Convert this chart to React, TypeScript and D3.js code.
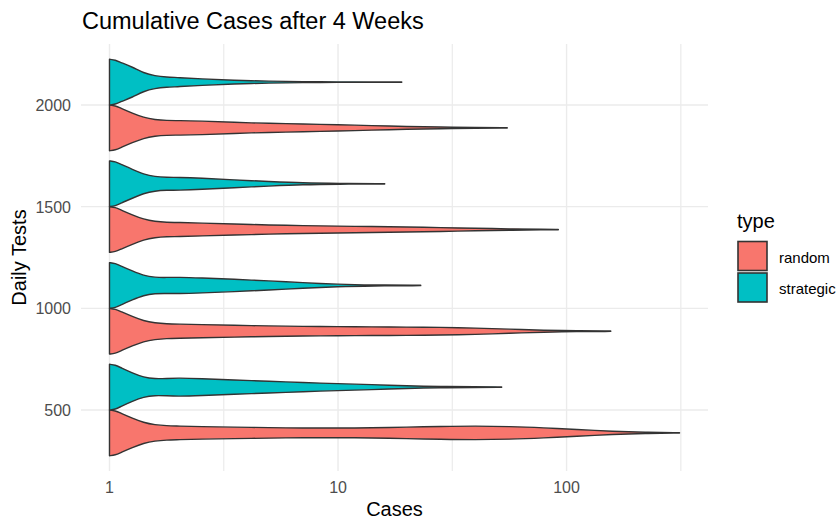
import React from "react";
import * as d3 from "d3";

// categories
const dailyTests = ["500", "1000", "1500", "2000"];
const types = ["random", "strategic"];
const typeColors = ["#F8766D", "#00BFC4"];
const xTicks = [1, 10, 100];

// violin outlines: cases (x) and relative half-width (1 = widest)
const random500Cases = [1, 1.06, 1.12, 1.26, 1.41, 1.58, 1.78, 2, 2.5, 3.5, 5, 7, 10, 14, 20, 28, 40, 56, 80, 110, 160, 220, 312];
const random500Width = [1, 0.97, 0.86, 0.64, 0.45, 0.35, 0.31, 0.3, 0.27, 0.25, 0.23, 0.21, 0.21, 0.22, 0.25, 0.28, 0.3, 0.28, 0.22, 0.15, 0.065, 0.025, 0.008];

const strategic500Cases = [1, 1.06, 1.12, 1.26, 1.41, 1.58, 1.78, 2, 2.5, 3.5, 5, 7, 10, 14, 20, 28, 40, 52];
const strategic500Width = [1, 0.97, 0.85, 0.62, 0.43, 0.36, 0.38, 0.4, 0.37, 0.31, 0.26, 0.2, 0.15, 0.11, 0.055, 0.025, 0.012, 0.008];

const random1000Cases = [1, 1.06, 1.12, 1.26, 1.41, 1.58, 1.78, 2, 2.5, 3.5, 5, 7, 10, 14, 20, 28, 40, 56, 80, 110, 156];
const random1000Width = [1, 0.97, 0.86, 0.64, 0.45, 0.36, 0.32, 0.31, 0.29, 0.26, 0.23, 0.21, 0.2, 0.19, 0.18, 0.17, 0.14, 0.09, 0.04, 0.018, 0.008];

const strategic1000Cases = [1, 1.06, 1.12, 1.26, 1.41, 1.58, 1.78, 2, 2.5, 3.5, 5, 7, 10, 14, 23];
const strategic1000Width = [1, 0.97, 0.85, 0.63, 0.43, 0.35, 0.35, 0.36, 0.33, 0.27, 0.2, 0.12, 0.05, 0.02, 0.008];

const random1500Cases = [1, 1.06, 1.12, 1.26, 1.41, 1.58, 1.78, 2, 2.5, 3.5, 5, 7, 10, 14, 20, 28, 40, 56, 80, 92];
const random1500Width = [1, 0.97, 0.86, 0.64, 0.45, 0.35, 0.31, 0.31, 0.28, 0.24, 0.2, 0.17, 0.15, 0.13, 0.11, 0.085, 0.055, 0.03, 0.012, 0.008];

const strategic1500Cases = [1, 1.06, 1.12, 1.26, 1.41, 1.58, 1.78, 2, 2.5, 3.5, 5, 7, 10, 16];
const strategic1500Width = [1, 0.97, 0.85, 0.63, 0.42, 0.31, 0.28, 0.28, 0.25, 0.17, 0.1, 0.035, 0.015, 0.008];

const random2000Cases = [1, 1.06, 1.12, 1.26, 1.41, 1.58, 1.78, 2, 2.5, 3.5, 5, 7, 10, 14, 20, 28, 40, 55];
const random2000Width = [1, 0.97, 0.86, 0.64, 0.45, 0.36, 0.32, 0.32, 0.3, 0.24, 0.2, 0.17, 0.14, 0.1, 0.06, 0.035, 0.015, 0.008];

const strategic2000Cases = [1, 1.06, 1.12, 1.26, 1.41, 1.58, 1.78, 2, 2.5, 3.5, 5, 7, 10, 14, 19];
const strategic2000Width = [1, 0.97, 0.86, 0.66, 0.4, 0.27, 0.22, 0.2, 0.14, 0.08, 0.04, 0.02, 0.012, 0.01, 0.008];

const violins = [
  { tests: "500", type: 0, cases: random500Cases, width: random500Width },
  { tests: "500", type: 1, cases: strategic500Cases, width: strategic500Width },
  { tests: "1000", type: 0, cases: random1000Cases, width: random1000Width },
  { tests: "1000", type: 1, cases: strategic1000Cases, width: strategic1000Width },
  { tests: "1500", type: 0, cases: random1500Cases, width: random1500Width },
  { tests: "1500", type: 1, cases: strategic1500Cases, width: strategic1500Width },
  { tests: "2000", type: 0, cases: random2000Cases, width: random2000Width },
  { tests: "2000", type: 1, cases: strategic2000Cases, width: strategic2000Width },
];

const font = "'Liberation Sans', Arial, Helvetica, sans-serif";
const W = 840, H = 521;
const panel = { left: 81, right: 708, top: 44, bottom: 471 };

export default function App() {
  const maxCases = d3.max(violins, v => d3.max(v.cases) as number) as number;
  const pad = Math.log10(maxCases) * 0.05;
  const x = d3.scaleLog()
    .domain([Math.pow(10, -pad), maxCases * Math.pow(10, pad)])
    .range([panel.left, panel.right]);
  const y = d3.scalePoint<string>()
    .domain(dailyTests)
    .range([panel.bottom, panel.top])
    .padding(0.6);
  const half = y.step() * 0.225;

  // minor breaks halfway between majors (log space)
  const minorTicks = xTicks.map(t => Math.sqrt(t * t * 10));

  return (
    <svg width={W} height={H} style={{ position: "absolute", left: 0, top: 0, background: "#fff" }}
      fontFamily={font}>
      {/* grid */}
      <g stroke="#EBEBEB" fill="none">
        {minorTicks.map(t => (
          <line key={"m" + t} x1={x(t)} x2={x(t)} y1={panel.top} y2={panel.bottom} strokeWidth={1.2} />
        ))}
        {xTicks.map(t => (
          <line key={"x" + t} x1={x(t)} x2={x(t)} y1={panel.top} y2={panel.bottom} strokeWidth={1.4} />
        ))}
        {dailyTests.map(d => (
          <line key={"y" + d} x1={panel.left} x2={panel.right} y1={y(d)} y2={y(d)} strokeWidth={1.4} />
        ))}
      </g>

      {/* violins */}
      {violins.map((v, i) => {
        const cy = (y(v.tests) as number) + (v.type === 0 ? half : -half);
        const pts = v.cases.map((c, j) => ({ c, w: v.width[j] }));
        const area = d3.area<{ c: number; w: number }>()
          .curve(d3.curveBasis)
          .x(d => x(d.c))
          .y0(d => cy - d.w * half)
          .y1(d => cy + d.w * half);
        return (
          <path key={i} d={area(pts) as string} fill={typeColors[v.type]}
            stroke="#333333" strokeWidth={1.4} strokeLinejoin="round" />
        );
      })}

      {/* axes text */}
      <g fill="#4D4D4D" fontSize={16}>
        {xTicks.map(t => (
          <text key={t} x={x(t)} y={493} textAnchor="middle">{t}</text>
        ))}
        {dailyTests.map(d => (
          <text key={d} x={71} y={(y(d) as number) + 6} textAnchor="end">{d}</text>
        ))}
      </g>
      <text x={(panel.left + panel.right) / 2} y={516} textAnchor="middle" fontSize={20}>Cases</text>
      <text transform={`translate(26,${(panel.top + panel.bottom) / 2}) rotate(-90)`} textAnchor="middle" fontSize={20}>
        Daily Tests
      </text>

      {/* title */}
      <text x={82} y={29} fontSize={23.5}>Cumulative Cases after 4 Weeks</text>

      {/* legend */}
      <text x={737} y={228} fontSize={20}>type</text>
      {types.map((t, i) => (
        <g key={t}>
          <rect x={738} y={241.5 + i * 31.5} width={29} height={29} fill={typeColors[i]}
            stroke="#333333" strokeWidth={1.6} />
          <text x={779} y={263 + i * 31} fontSize={15}>{t}</text>
        </g>
      ))}
    </svg>
  );
}
